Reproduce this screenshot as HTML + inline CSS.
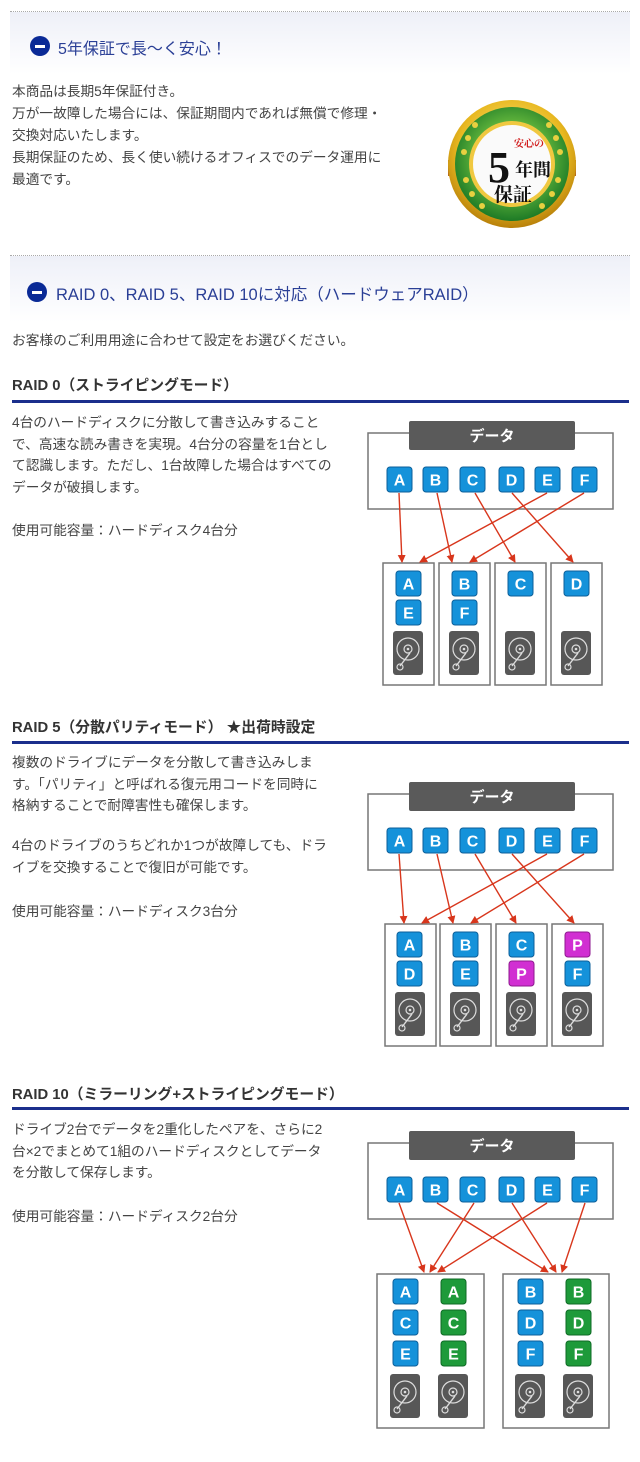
<!DOCTYPE html>
<html><head><meta charset="utf-8">
<style>
body{margin:0;background:#fff;}
#p{position:relative;width:640px;height:1462px;overflow:hidden;font-family:"Liberation Sans","Noto Sans CJK JP",sans-serif;color:#444;}
.t{position:absolute;white-space:nowrap;font-size:13.7px;}
.band{position:absolute;left:10px;width:620px;border-top:1px dotted #aaa;background:linear-gradient(#eef0f8,#fff);}
.icon{position:absolute;width:20px;height:20px;border-radius:50%;background:#0a2a96;}
.icon:after{content:"";position:absolute;left:5px;top:9px;width:10px;height:2.5px;background:#fff;}
.h2{position:absolute;font-size:16.5px;color:#2a3f96;white-space:nowrap;}
.h3{position:absolute;left:12px;font-size:14.8px;font-weight:bold;color:#333;white-space:nowrap;}
.ul{position:absolute;left:12px;width:617px;height:3px;background:#1b2f8c;}
svg{position:absolute;left:0;}
</style></head><body><div id="p">

<div class="band" style="top:11px;height:62px;"></div>
<div class="icon" style="left:30px;top:36px;"></div>
<div class="h2" style="left:58px;top:35px;font-size:16px;">5年保証で長〜く安心！</div>

<div class="t" style="left:12px;top:81px;line-height:22px;">本商品は長期5年保証付き。<br>万が一故障した場合には、保証期間内であれば無償で修理・<br>交換対応いたします。<br>長期保証のため、長く使い続けるオフィスでのデータ運用に<br>最適です。</div>

<svg width="640" height="240" style="top:0">
<defs>
<radialGradient id="gold" cx="50%" cy="40%" r="60%"><stop offset="0" stop-color="#fff3a0"/><stop offset="0.7" stop-color="#e8b820"/><stop offset="1" stop-color="#b8800a"/></radialGradient>
<radialGradient id="grn" cx="50%" cy="45%" r="55%"><stop offset="0.6" stop-color="#5cb03a"/><stop offset="1" stop-color="#1d7a26"/></radialGradient>
</defs>
<rect x="448" y="160" width="128" height="16" fill="#b86a1a"/>
<circle cx="512" cy="164" r="64" fill="url(#gold)"/>
<circle cx="512" cy="164" r="57" fill="url(#grn)"/>
<circle cx="512" cy="164" r="43" fill="#f0c840"/>
<circle cx="512" cy="164" r="39" fill="#fafafa"/>
<g fill="#e8d040"><circle cx="475" cy="125" r="3"/><circle cx="468" cy="138" r="3"/><circle cx="464" cy="152" r="3"/><circle cx="549" cy="125" r="3"/><circle cx="556" cy="138" r="3"/><circle cx="560" cy="152" r="3"/><circle cx="466" cy="180" r="3"/><circle cx="472" cy="194" r="3"/><circle cx="482" cy="206" r="3"/><circle cx="558" cy="180" r="3"/><circle cx="552" cy="194" r="3"/><circle cx="542" cy="206" r="3"/></g>
<text x="529" y="147" font-size="10" font-weight="bold" fill="#d01818" text-anchor="middle" font-family="Liberation Serif,Noto Serif CJK SC,serif">安心の</text>
<text x="499" y="182" font-size="44" font-weight="bold" fill="#111" text-anchor="middle" font-family="Liberation Serif,serif">5</text>
<text x="533" y="176" font-size="18" font-weight="bold" fill="#111" text-anchor="middle" font-family="Liberation Serif,Noto Serif CJK SC,serif">年間</text>
<text x="513" y="201" font-size="19" font-weight="bold" fill="#111" text-anchor="middle" font-family="Liberation Serif,Noto Serif CJK SC,serif">保証</text>
</svg>

<div class="band" style="top:255px;height:66px;"></div>
<div class="icon" style="left:27px;top:282px;"></div>
<div class="h2" style="left:56px;top:281px;">RAID 0、RAID 5、RAID 10に対応（ハードウェアRAID）</div>
<div class="t" style="left:12px;top:329px;">お客様のご利用用途に合わせて設定をお選びください。</div>

<div class="h3" style="top:374px;">RAID 0（ストライピングモード）</div>
<div class="ul" style="top:400px;"></div>
<div class="t" style="left:12px;top:412px;line-height:21.6px;">4台のハードディスクに分散して書き込みすること<br>で、高速な読み書きを実現。4台分の容量を1台とし<br>て認識します。ただし、1台故障した場合はすべての<br>データが破損します。</div>
<div class="t" style="left:12px;top:519px;">使用可能容量：ハードディスク4台分</div>

<div class="h3" style="top:716px;">RAID 5（分散パリティモード）&nbsp;★出荷時設定</div>
<div class="ul" style="top:741px;"></div>
<div class="t" style="left:12px;top:752px;line-height:21.5px;">複数のドライブにデータを分散して書き込みしま<br>す。「パリティ」と呼ばれる復元用コードを同時に<br>格納することで耐障害性も確保します。</div>
<div class="t" style="left:12px;top:835px;line-height:21.5px;">4台のドライブのうちどれか1つが故障しても、ドラ<br>イブを交換することで復旧が可能です。</div>
<div class="t" style="left:12px;top:900px;">使用可能容量：ハードディスク3台分</div>

<div class="h3" style="top:1083px;">RAID 10（ミラーリング+ストライピングモード）</div>
<div class="ul" style="top:1107px;"></div>
<div class="t" style="left:12px;top:1119px;line-height:21.5px;">ドライブ2台でデータを2重化したペアを、さらに2<br>台×2でまとめて1組のハードディスクとしてデータ<br>を分散して保存します。</div>
<div class="t" style="left:12px;top:1205px;">使用可能容量：ハードディスク2台分</div>

<svg width="640" height="1462" style="top:0">
<defs>
<marker id="ar" markerWidth="8" markerHeight="8" refX="7" refY="4" orient="auto" markerUnits="userSpaceOnUse"><path d="M0,0 L8,4 L0,8 Z" fill="#d8361c"/></marker>
<g id="hdd"><rect x="0" y="0" width="30" height="44" rx="3" fill="#575757"/><circle cx="15" cy="18" r="11" fill="none" stroke="#ddd" stroke-width="1.2"/><circle cx="15" cy="18" r="4" fill="none" stroke="#ddd" stroke-width="1.2"/><circle cx="15" cy="18" r="1.3" fill="#ddd"/><line x1="17" y1="22" x2="7" y2="35" stroke="#ddd" stroke-width="1.4"/><circle cx="7" cy="36" r="3" fill="none" stroke="#ddd" stroke-width="1.2"/></g>
</defs>
<style>.b{fill:#1592da;stroke:#0c5f99;stroke-width:1}.g{fill:#1e9a3a;stroke:#0d6a24;stroke-width:1}.m{fill:#d12fd2;stroke:#8e1a8f;stroke-width:1}.l{fill:#fff;font-weight:bold;font-size:16px;text-anchor:middle;font-family:"Liberation Sans",sans-serif}.bx{fill:#fff;stroke:#777;stroke-width:1.5}.a{stroke:#d8361c;stroke-width:1.4;marker-end:url(#ar)}.dt{fill:#fff;font-weight:bold;font-size:15px;text-anchor:middle;font-family:"Liberation Sans","Noto Sans CJK JP",sans-serif}</style>

<g>
<rect class="bx" x="368" y="433" width="245" height="76"/>
<rect x="409" y="421" width="166" height="29" rx="2" fill="#5a5a5a"/><text class="dt" x="492" y="441">データ</text>
<rect class="b" x="387" y="467" width="25" height="25" rx="3"/><text class="l" x="399.5" y="485.5">A</text>
<rect class="b" x="423" y="467" width="25" height="25" rx="3"/><text class="l" x="435.5" y="485.5">B</text>
<rect class="b" x="460" y="467" width="25" height="25" rx="3"/><text class="l" x="472.5" y="485.5">C</text>
<rect class="b" x="499" y="467" width="25" height="25" rx="3"/><text class="l" x="511.5" y="485.5">D</text>
<rect class="b" x="535" y="467" width="25" height="25" rx="3"/><text class="l" x="547.5" y="485.5">E</text>
<rect class="b" x="572" y="467" width="25" height="25" rx="3"/><text class="l" x="584.5" y="485.5">F</text>
<rect class="bx" x="383" y="563" width="51" height="122"/><rect class="bx" x="439" y="563" width="51" height="122"/><rect class="bx" x="495" y="563" width="51" height="122"/><rect class="bx" x="551" y="563" width="51" height="122"/>
<rect class="b" x="396" y="571" width="25" height="25" rx="3"/><text class="l" x="408.5" y="589.5">A</text>
<rect class="b" x="396" y="600" width="25" height="25" rx="3"/><text class="l" x="408.5" y="618.5">E</text>
<rect class="b" x="452" y="571" width="25" height="25" rx="3"/><text class="l" x="464.5" y="589.5">B</text>
<rect class="b" x="452" y="600" width="25" height="25" rx="3"/><text class="l" x="464.5" y="618.5">F</text>
<rect class="b" x="508" y="571" width="25" height="25" rx="3"/><text class="l" x="520.5" y="589.5">C</text>
<rect class="b" x="564" y="571" width="25" height="25" rx="3"/><text class="l" x="576.5" y="589.5">D</text>
<use href="#hdd" x="393" y="631"/><use href="#hdd" x="449" y="631"/><use href="#hdd" x="505" y="631"/><use href="#hdd" x="561" y="631"/>
<line class="a" x1="399" y1="493" x2="402" y2="562"/><line class="a" x1="437" y1="493" x2="452" y2="562"/><line class="a" x1="475" y1="493" x2="515" y2="562"/><line class="a" x1="512" y1="493" x2="573" y2="562"/><line class="a" x1="547" y1="493" x2="420" y2="562"/><line class="a" x1="584" y1="493" x2="470" y2="562"/>
</g>

<g transform="translate(0,361)">
<rect class="bx" x="368" y="433" width="245" height="76"/>
<rect x="409" y="421" width="166" height="29" rx="2" fill="#5a5a5a"/><text class="dt" x="492" y="441">データ</text>
<rect class="b" x="387" y="467" width="25" height="25" rx="3"/><text class="l" x="399.5" y="485.5">A</text>
<rect class="b" x="423" y="467" width="25" height="25" rx="3"/><text class="l" x="435.5" y="485.5">B</text>
<rect class="b" x="460" y="467" width="25" height="25" rx="3"/><text class="l" x="472.5" y="485.5">C</text>
<rect class="b" x="499" y="467" width="25" height="25" rx="3"/><text class="l" x="511.5" y="485.5">D</text>
<rect class="b" x="535" y="467" width="25" height="25" rx="3"/><text class="l" x="547.5" y="485.5">E</text>
<rect class="b" x="572" y="467" width="25" height="25" rx="3"/><text class="l" x="584.5" y="485.5">F</text>
<rect class="bx" x="385" y="563" width="51" height="122"/><rect class="bx" x="440" y="563" width="51" height="122"/><rect class="bx" x="496" y="563" width="51" height="122"/><rect class="bx" x="552" y="563" width="51" height="122"/>
<rect class="b" x="397" y="571" width="25" height="25" rx="3"/><text class="l" x="409.5" y="589.5">A</text>
<rect class="b" x="397" y="600" width="25" height="25" rx="3"/><text class="l" x="409.5" y="618.5">D</text>
<rect class="b" x="453" y="571" width="25" height="25" rx="3"/><text class="l" x="465.5" y="589.5">B</text>
<rect class="b" x="453" y="600" width="25" height="25" rx="3"/><text class="l" x="465.5" y="618.5">E</text>
<rect class="b" x="509" y="571" width="25" height="25" rx="3"/><text class="l" x="521.5" y="589.5">C</text>
<rect class="m" x="509" y="600" width="25" height="25" rx="3"/><text class="l" x="521.5" y="618.5">P</text>
<rect class="m" x="565" y="571" width="25" height="25" rx="3"/><text class="l" x="577.5" y="589.5">P</text>
<rect class="b" x="565" y="600" width="25" height="25" rx="3"/><text class="l" x="577.5" y="618.5">F</text>
<use href="#hdd" x="395" y="631"/><use href="#hdd" x="450" y="631"/><use href="#hdd" x="506" y="631"/><use href="#hdd" x="562" y="631"/>
<line class="a" x1="399" y1="493" x2="404" y2="562"/><line class="a" x1="437" y1="493" x2="453" y2="562"/><line class="a" x1="475" y1="493" x2="516" y2="562"/><line class="a" x1="512" y1="493" x2="574" y2="562"/><line class="a" x1="547" y1="493" x2="422" y2="562"/><line class="a" x1="584" y1="493" x2="471" y2="562"/>
</g>

<g transform="translate(0,710)">
<rect class="bx" x="368" y="433" width="245" height="76"/>
<rect x="409" y="421" width="166" height="29" rx="2" fill="#5a5a5a"/><text class="dt" x="492" y="441">データ</text>
<rect class="b" x="387" y="467" width="25" height="25" rx="3"/><text class="l" x="399.5" y="485.5">A</text>
<rect class="b" x="423" y="467" width="25" height="25" rx="3"/><text class="l" x="435.5" y="485.5">B</text>
<rect class="b" x="460" y="467" width="25" height="25" rx="3"/><text class="l" x="472.5" y="485.5">C</text>
<rect class="b" x="499" y="467" width="25" height="25" rx="3"/><text class="l" x="511.5" y="485.5">D</text>
<rect class="b" x="535" y="467" width="25" height="25" rx="3"/><text class="l" x="547.5" y="485.5">E</text>
<rect class="b" x="572" y="467" width="25" height="25" rx="3"/><text class="l" x="584.5" y="485.5">F</text>
<rect class="bx" x="377" y="564" width="107" height="154"/><rect class="bx" x="503" y="564" width="106" height="154"/>
<rect class="b" x="393" y="569" width="25" height="25" rx="3"/><text class="l" x="405.5" y="587.5">A</text>
<rect class="b" x="393" y="600" width="25" height="25" rx="3"/><text class="l" x="405.5" y="618.5">C</text>
<rect class="b" x="393" y="631" width="25" height="25" rx="3"/><text class="l" x="405.5" y="649.5">E</text>
<rect class="g" x="441" y="569" width="25" height="25" rx="3"/><text class="l" x="453.5" y="587.5">A</text>
<rect class="g" x="441" y="600" width="25" height="25" rx="3"/><text class="l" x="453.5" y="618.5">C</text>
<rect class="g" x="441" y="631" width="25" height="25" rx="3"/><text class="l" x="453.5" y="649.5">E</text>
<rect class="b" x="518" y="569" width="25" height="25" rx="3"/><text class="l" x="530.5" y="587.5">B</text>
<rect class="b" x="518" y="600" width="25" height="25" rx="3"/><text class="l" x="530.5" y="618.5">D</text>
<rect class="b" x="518" y="631" width="25" height="25" rx="3"/><text class="l" x="530.5" y="649.5">F</text>
<rect class="g" x="566" y="569" width="25" height="25" rx="3"/><text class="l" x="578.5" y="587.5">B</text>
<rect class="g" x="566" y="600" width="25" height="25" rx="3"/><text class="l" x="578.5" y="618.5">D</text>
<rect class="g" x="566" y="631" width="25" height="25" rx="3"/><text class="l" x="578.5" y="649.5">F</text>
<use href="#hdd" x="390" y="664"/><use href="#hdd" x="438" y="664"/><use href="#hdd" x="515" y="664"/><use href="#hdd" x="563" y="664"/>
<line class="a" x1="399" y1="493" x2="424" y2="562"/><line class="a" x1="474" y1="493" x2="430" y2="562"/><line class="a" x1="547" y1="493" x2="438" y2="562"/><line class="a" x1="437" y1="493" x2="548" y2="562"/><line class="a" x1="512" y1="493" x2="556" y2="562"/><line class="a" x1="585" y1="493" x2="562" y2="562"/>
</g>
</svg>
</div></body></html>
